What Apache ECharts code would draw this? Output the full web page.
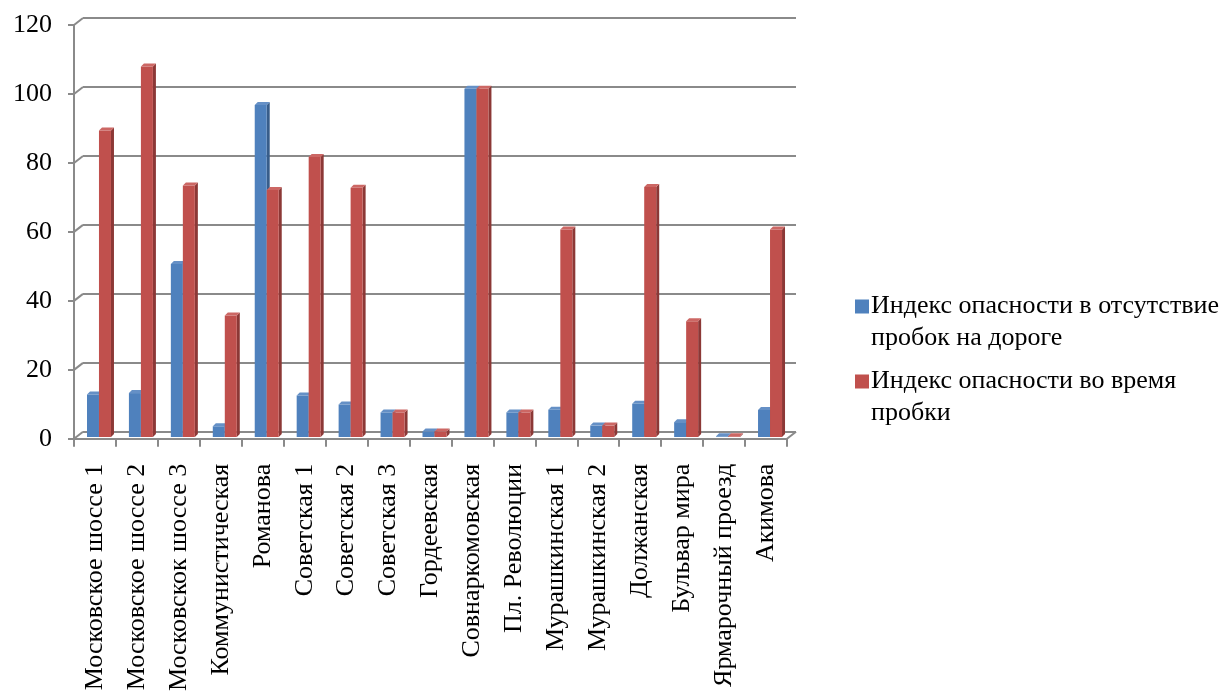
<!DOCTYPE html>
<html>
<head>
<meta charset="utf-8">
<script src="https://cdn.jsdelivr.net/npm/echarts@6/dist/echarts.min.js"></script>
<style>
  html, body { margin: 0; padding: 0; background: #ffffff; }
  #chart { width: 1227px; height: 694px; }
</style>
</head>
<body>
<div id="chart"></div>
<script>
// Street names (category axis)
const categories = [
  'Московское шоссе 1', 'Московское шоссе 2', 'Московскок шоссе 3', 'Коммунистическая',
  'Романова', 'Советская 1', 'Советская 2', 'Советская 3', 'Гордеевская',
  'Совнаркомовская', 'Пл. Революции', 'Мурашкинская 1', 'Мурашкинская 2',
  'Должанская', 'Бульвар мира', 'Ярмарочный проезд', 'Акимова'
];

// Danger index without traffic jams
const indexNoJam = [12.3, 12.7, 50, 3.1, 96, 12, 9.4, 7.1, 1.6, 100.7, 7.1, 7.9, 3.3, 9.6, 4.3, 0.2, 7.8];
// Danger index during traffic jams
const indexJam = [88.6, 107.1, 72.7, 35.1, 71.4, 81, 72.1, 7.1, 1.6, 100.7, 7.1, 60, 3.3, 72.3, 33.5, 0.2, 60];

const seriesNames = [
  'Индекс опасности в отсутствие\nпробок на дороге',
  'Индекс опасности во время\nпробки'
];

// Value axis ticks
const yTicks = [0, 20, 40, 60, 80, 100, 120];

const AXIS_GRAY = '#8a8a8a';
const FONT = '"Liberation Serif", "DejaVu Serif", serif';
const DEPTH = 3;       // extrusion of the bar prisms
const BAR_W = 12;      // width of one bar front face
const WALL_DX = 9, WALL_DY = -7;  // offset from front axes to the back wall

// Pseudo-3D bar: front face, right side face and top face
function prism(offset, front, side, top) {
  return function (params, api) {
    const idx = api.value(0);
    const v = api.value(1);
    const base = api.coord([idx, 0]);
    const tip = api.coord([idx, v]);
    const x0 = base[0] + offset;
    const x1 = x0 + BAR_W;
    const yb = base[1];
    const yt = tip[1];
    return {
      type: 'group',
      children: [
        { type: 'polygon', shape: { points: [[x1, yt], [x1 + DEPTH, yt - DEPTH], [x1 + DEPTH, yb - DEPTH], [x1, yb]] },
          style: { fill: side } },
        { type: 'rect', shape: { x: x0, y: yt, width: BAR_W, height: yb - yt },
          style: { fill: front } },
        { type: 'polygon', shape: { points: [[x0, yt], [x0 + DEPTH, yt - DEPTH], [x1 + DEPTH, yt - DEPTH], [x1, yt]] },
          style: { fill: top } }
      ]
    };
  };
}

// Short diagonal connectors between the front axes and the back wall
function wallConnector(params, api) {
  const cs = params.coordSys;
  const v = api.value(1);
  const side = api.value(2);
  const y = api.coord([0, v])[1];
  const x = side === 1 ? cs.x + cs.width : cs.x;
  return {
    type: 'line',
    shape: { x1: x, y1: y, x2: x + WALL_DX, y2: y + WALL_DY },
    style: { stroke: AXIS_GRAY, lineWidth: 2 }
  };
}

const connectorData = yTicks.map(v => [0, v, 0]).concat([[0, 0, 1]]);

const chart = echarts.init(document.getElementById('chart'), null, { renderer: 'canvas' });

chart.setOption({
  backgroundColor: '#ffffff',
  animation: false,
  grid: [
    // front axes
    { left: 74, right: 440, top: 25, bottom: 255 },
    // back wall with gridlines
    { left: 83, right: 431, top: 18, bottom: 262 },
    // bars, between front and back
    { left: 77, right: 437, top: 22, bottom: 257 }
  ],
  xAxis: [
    {
      gridIndex: 0, type: 'category', data: categories, boundaryGap: true,
      axisLine: { show: true, lineStyle: { color: AXIS_GRAY, width: 2 } },
      axisTick: { show: true, length: 8, lineStyle: { color: AXIS_GRAY, width: 2 } },
      axisLabel: {
        interval: 0, rotate: 90, margin: 25, color: '#000000',
        fontFamily: FONT, fontSize: 26
      },
      splitLine: { show: false }
    },
    { gridIndex: 1, type: 'category', data: categories, show: false },
    { gridIndex: 2, type: 'category', data: categories, show: false }
  ],
  yAxis: [
    {
      gridIndex: 0, type: 'value', min: 0, max: 120, interval: 20,
      axisLine: { show: true, lineStyle: { color: AXIS_GRAY, width: 2 } },
      axisTick: { show: true, length: 6, lineStyle: { color: AXIS_GRAY, width: 2 } },
      axisLabel: { margin: 22, color: '#000000', fontFamily: FONT, fontSize: 26 },
      splitLine: { show: false }
    },
    {
      gridIndex: 1, type: 'value', min: 0, max: 120, interval: 20,
      axisLine: { show: false }, axisTick: { show: false }, axisLabel: { show: false },
      splitLine: { show: true, lineStyle: { color: AXIS_GRAY, width: 2 } }
    },
    {
      gridIndex: 2, type: 'value', min: 0, max: 120, interval: 20, show: false
    }
  ],
  legend: {
    data: seriesNames,
    orient: 'vertical',
    left: 855,
    top: 290,
    padding: 0,
    itemGap: 11,
    itemWidth: 14,
    itemHeight: 45,
    icon: 'path://M0,0H14V14H0Z M0,45H14',
    itemStyle: { borderWidth: 0 },
    textStyle: { fontFamily: FONT, fontSize: 26, color: '#000000', lineHeight: 32, padding: [0, 0, 0, -3] },
    selectedMode: false
  },
  series: [
    {
      name: 'connectors', type: 'custom', xAxisIndex: 0, yAxisIndex: 0,
      data: connectorData, renderItem: wallConnector, silent: true, z: 3
    },
    {
      name: seriesNames[0], type: 'custom', xAxisIndex: 2, yAxisIndex: 2,
      itemStyle: { color: '#4F81BD' },
      data: indexNoJam.map((v, i) => [i, v]),
      encode: { x: 0, y: 1 },
      renderItem: prism(-11, '#4F81BD', '#385D8A', '#6590C6'), z: 4
    },
    {
      name: seriesNames[1], type: 'custom', xAxisIndex: 2, yAxisIndex: 2,
      itemStyle: { color: '#C0504D' },
      data: indexJam.map((v, i) => [i, v]),
      encode: { x: 0, y: 1 },
      renderItem: prism(1, '#C0504D', '#8C3836', '#CC6764'), z: 5
    }
  ]
});
</script>
</body>
</html>
